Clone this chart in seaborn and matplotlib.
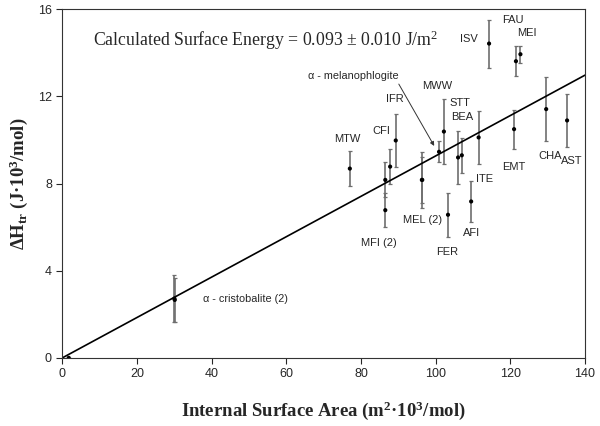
import matplotlib
matplotlib.use("Agg")
import matplotlib.pyplot as plt
import seaborn as sns
import pandas as pd

# measured points: internal surface area vs enthalpy of transition
area = [1.7, 30.0, 30.1, 77.0, 86.5, 86.5, 87.8, 89.3, 96.3, 96.4, 100.9,
        102.2, 103.3, 106.0, 107.0, 109.5, 111.5, 114.3, 121.0, 121.5, 122.7,
        129.6, 135.2]
dh = [0.0, 2.72, 2.66, 8.69, 8.17, 6.78, 8.78, 9.98, 8.17, 8.17, 9.46,
      10.39, 6.57, 9.2, 9.3, 7.18, 10.12, 14.43, 10.5, 13.62, 13.94,
      11.42, 10.9]
dh_err = [0.0, 1.08, 1.0, 0.82, 0.8, 0.79, 0.82, 1.22, 1.3, 1.05, 0.48,
          1.5, 1.0, 1.22, 0.8, 0.92, 1.2, 1.1, 0.9, 0.7, 0.4,
          1.48, 1.2]

# fitted line through origin
fit_x = [0, 140]
fit_y = [0, 12.98]

# framework labels and where they sit
labels = ["ISV", "FAU", "MEI", "CHA", "AST", "EMT", "ITE", "AFI", "FER",
          "MEL (2)", "MFI (2)", "MTW", "CFI", "IFR", "MWW", "STT", "BEA"]
label_x = [108.9, 120.6, 124.5, 130.6, 136.4, 120.8, 113.0, 109.5, 103.1,
           96.4, 84.8, 76.2, 85.5, 89.1, 100.4, 106.5, 107.1]
label_y = [14.63, 15.52, 14.9, 9.27, 9.06, 8.75, 8.2, 5.72, 4.88,
           6.34, 5.29, 10.04, 10.41, 11.89, 12.49, 11.69, 11.05]

x_ticks = [0, 20, 40, 60, 80, 100, 120, 140]
y_ticks = [0, 4, 8, 12, 16]

df = pd.DataFrame({"area": area, "dh": dh, "err": dh_err})
fit = pd.DataFrame({"x": fit_x, "y": fit_y})

sns.set_style("ticks")
plt.rcParams["font.family"] = ["Liberation Sans", "DejaVu Sans"]
plt.rcParams["mathtext.fontset"] = "custom"
plt.rcParams["mathtext.rm"] = "Liberation Serif"
plt.rcParams["mathtext.bf"] = "Liberation Serif:bold"

fig = plt.figure(figsize=(6, 4.26), dpi=100)
ax = fig.add_axes([0.104, 0.160, 0.871, 0.818])

ax.errorbar(df["area"], df["dh"], yerr=df["err"], fmt="none",
            ecolor="#6e6e6e", elinewidth=1.2, capsize=1.6, capthick=0.9)
sns.lineplot(data=fit, x="x", y="y", ax=ax, color="black", linewidth=1.2)
sns.scatterplot(data=df, x="area", y="dh", ax=ax, color="black", s=9,
                edgecolor="none", zorder=5)

for name, lx, ly in zip(labels, label_x, label_y):
    ax.text(lx, ly, name, fontsize=8, ha="center", va="center")

ax.text(37.7, 2.69, "\u03b1 - cristobalite (2)", fontsize=7.8,
        ha="left", va="center")
ax.annotate("\u03b1 - melanophlogite", xy=(99.6, 9.73), xytext=(77.9, 12.95),
            fontsize=7.8, ha="center", va="center",
            arrowprops=dict(arrowstyle="-|>", color="#333333", lw=0.7,
                            mutation_scale=6, shrinkA=0, shrinkB=0,
                            relpos=(0.97, 0.2)))

ax.text(8.2, 14.6, "Calculated Surface Energy = 0.093 \u00b1 0.010 J/m$\\mathrm{^2}$",
        fontsize=12.8, family="Liberation Serif", ha="left", va="center")

ax.set_xlim(0, 140)
ax.set_ylim(0, 16)
ax.set_xticks(x_ticks)
ax.set_yticks(y_ticks)
ax.tick_params(labelsize=9, length=4, width=0.8, direction="out")
for side in ["top", "right", "left", "bottom"]:
    ax.spines[side].set_visible(True)
    ax.spines[side].set_linewidth(0.8)
    ax.spines[side].set_color("#333333")

ax.set_xlabel("Internal Surface Area (m$\\mathbf{^2}$\u00b710$\\mathbf{^3}$/mol)",
              fontsize=13.5, fontweight="bold", family="Liberation Serif",
              labelpad=14)
ax.set_ylabel("\u0394H$_\\mathbf{tr}$ (J\u00b710$\\mathbf{^3}$/mol)",
              fontsize=13.5, fontweight="bold", family="Liberation Serif",
              labelpad=6)

fig.savefig("out.png", dpi=100)
